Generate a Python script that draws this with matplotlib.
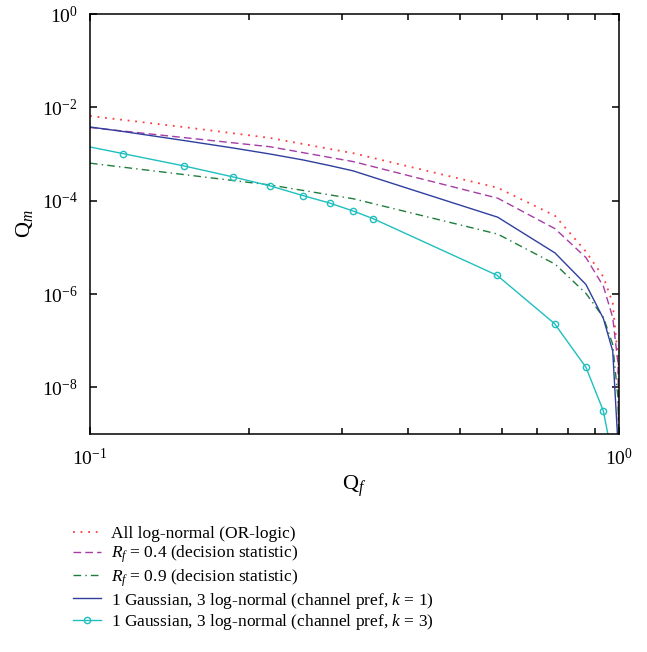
import matplotlib
matplotlib.use("Agg")
import matplotlib.pyplot as plt
from matplotlib.ticker import LogLocator, NullLocator, NullFormatter

plt.rcParams['font.family'] = ['Liberation Serif', 'DejaVu Serif']
plt.rcParams['mathtext.fontset'] = 'custom'
plt.rcParams['mathtext.rm'] = 'Liberation Serif'
plt.rcParams['mathtext.it'] = 'Liberation Serif:italic'
plt.rcParams['mathtext.bf'] = 'Liberation Serif:bold'

# ---- data ----
qf_or = [0.1, 0.1503, 0.2189, 0.3144, 0.5899, 0.7568, 0.866, 0.9346, 0.973, 0.998, 0.9997]
qm_or = [6.52e-3, 3.78e-3, 2.21e-3, 1.04e-3, 1.89e-4, 4.75e-5, 8.09e-6, 2.31e-6, 6.40e-7, 3.12e-8, 1e-10]

qf_r04 = [0.1, 0.1503, 0.2189, 0.3144, 0.5899, 0.7568, 0.866, 0.9346, 0.973, 0.996, 0.9997]
qm_r04 = [3.70e-3, 2.25e-3, 1.43e-3, 6.88e-4, 1.13e-4, 2.51e-5, 6.03e-6, 1.45e-6, 3.15e-7, 3.12e-8, 1e-10]

qf_r09 = [0.1, 0.1503, 0.2189, 0.3144, 0.5899, 0.7568, 0.866, 0.9346, 0.973, 0.996, 0.9995]
qm_r09 = [6.36e-4, 3.63e-4, 2.17e-4, 1.10e-4, 1.92e-5, 4.38e-6, 1.03e-6, 3.15e-7, 8.34e-8, 5.57e-9, 1e-10]

qf_k1 = [0.1, 0.1154, 0.1503, 0.1861, 0.2189, 0.2524, 0.2838, 0.3144, 0.5899, 0.7568, 0.866, 0.9346, 0.973, 0.998]
qm_k1 = [3.79e-3, 3.04e-3, 1.95e-3, 1.35e-3, 1.00e-3, 7.48e-4, 5.65e-4, 4.35e-4, 4.42e-5, 7.59e-6, 1.60e-6, 2.95e-7, 6.0e-8, 3.7e-10]

qf_k3 = [0.09, 0.1154, 0.1503, 0.1861, 0.2189, 0.2524, 0.2838, 0.3144, 0.3432, 0.588, 0.7556, 0.866, 0.934, 0.97]
qm_k3 = [1.80e-3, 1.02e-3, 5.57e-4, 3.24e-4, 2.08e-4, 1.29e-4, 8.89e-5, 6.0e-5, 4.10e-5, 2.52e-6, 2.31e-7, 2.69e-8, 3.13e-9, 3.5e-10]

labels = [
    "All log-normal (OR-logic)",
    r"$R_f$ = 0.4 (decision statistic)",
    r"$R_f$ = 0.9 (decision statistic)",
    r"1 Gaussian, 3 log-normal (channel pref, $k$ = 1)",
    r"1 Gaussian, 3 log-normal (channel pref, $k$ = 3)",
]

# ---- figure ----
fig = plt.figure(figsize=(6.47, 6.52), dpi=100)
ax = fig.add_axes([90/647, 1-434/652, (619-90)/647, (434-14)/652])

lw = 1.0
ax.plot(qf_or, qm_or, linestyle=(0, (1, 3.2)), color='#ff3b3b', lw=1.3, label=labels[0])
ax.plot(qf_r04, qm_r04, linestyle=(0, (5.5, 3)), color='#a63ca6', lw=lw, label=labels[1])
ax.plot(qf_r09, qm_r09, linestyle=(0, (5.5, 3, 1, 3)), color='#1e7d3c', lw=lw, label=labels[2])
ax.plot(qf_k1, qm_k1, linestyle='-', color='#2e3f9e', lw=lw, label=labels[3])
ax.plot(qf_k3, qm_k3, linestyle='-', color='#1fbfbf', lw=lw, marker='o', markersize=4.5,
        markerfacecolor='none', markeredgewidth=1.0, label=labels[4])

ax.set_xscale('log')
ax.set_yscale('log')
ax.set_xlim(0.1, 1.0)
ax.set_ylim(1e-9, 1.0)

ax.yaxis.set_major_locator(LogLocator(base=100.0))
ax.yaxis.set_minor_locator(NullLocator())
ax.xaxis.set_minor_locator(LogLocator(base=10.0, subs=range(2, 10)))
ax.xaxis.set_minor_formatter(NullFormatter())

ax.tick_params(which='both', direction='in', top=True, right=True, width=1.1, labelsize=14)
ax.tick_params(which='major', length=5)
ax.tick_params(which='minor', length=4)
ax.tick_params(axis='y', pad=9)
ax.tick_params(axis='x', pad=10)

for s in ax.spines.values():
    s.set_linewidth(1.1)

ax.set_xlabel(r"$\mathrm{Q}_f$", fontsize=16, labelpad=3)
ax.set_ylabel(r"$\mathrm{Q}_m$", fontsize=16, labelpad=5)

fig.legend(loc='upper left', bbox_to_anchor=(73/647, 1-526/652), frameon=False,
           fontsize=12.5, borderpad=0, borderaxespad=0, handlelength=1.6,
           handletextpad=0.6, labelspacing=0.1)

fig.savefig("out.png", dpi=100)
